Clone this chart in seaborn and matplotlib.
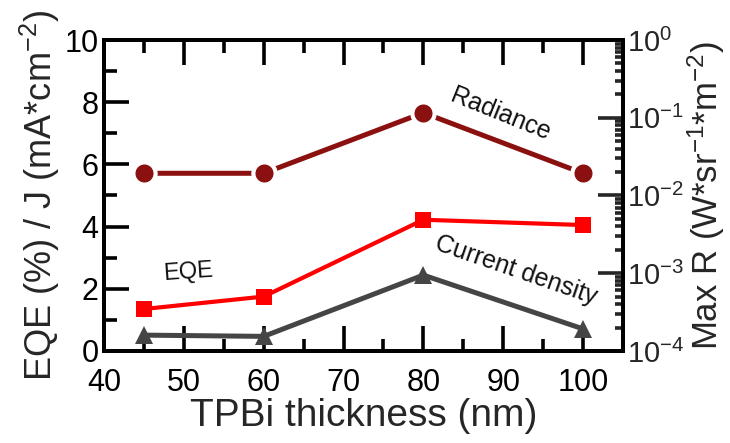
import matplotlib
matplotlib.use("Agg")
import matplotlib.pyplot as plt
from matplotlib.ticker import MultipleLocator, LogLocator, NullFormatter
import seaborn as sns
import pandas as pd

# TPBi thickness series
thickness = [45, 60, 80, 100]
eqe = [1.35, 1.75, 4.22, 4.05]                 # EQE (%)
current_density = [0.51, 0.47, 2.44, 0.71]     # J (mA/cm^2)
radiance = [0.0193, 0.0193, 0.116, 0.0193]     # max radiance (W/sr/m^2)

x_ticks = [40, 50, 60, 70, 80, 90, 100]

sns.set_theme(style="ticks")
plt.rcParams["font.family"] = ["Liberation Sans", "DejaVu Sans"]
plt.rcParams["mathtext.fontset"] = "custom"
plt.rcParams["mathtext.rm"] = "Liberation Sans"
plt.rcParams["mathtext.it"] = "Liberation Sans:italic"
plt.rcParams["mathtext.default"] = "regular"

df = pd.DataFrame({"thickness": thickness, "eqe": eqe,
                   "current": current_density, "radiance": radiance})

fig = plt.figure(figsize=(7.3, 4.43), dpi=100)
ax = fig.add_axes([0.1425, 0.2077, 0.7109, 0.702])
ax2 = ax.twinx()

dark_red = "#8b1111"
red = "#ff0000"
gray = "#454545"

sns.lineplot(data=df, x="thickness", y="current", ax=ax, color=gray,
             lw=3.6, marker="^", markersize=13, markeredgewidth=0, zorder=3)
sns.lineplot(data=df, x="thickness", y="eqe", ax=ax, color=red,
             lw=3.0, marker="s", markersize=11, markeredgewidth=0, zorder=4)
sns.lineplot(data=df, x="thickness", y="radiance", ax=ax2, color=dark_red,
             lw=3.6, marker="o", markersize=16, markeredgewidth=3.0,
             markeredgecolor="white", zorder=5)

# left axis / bottom axis
ax.set_xlim(40, 105)
ax.set_ylim(0, 10)
ax.set_xticks(x_ticks)
ax.xaxis.set_minor_locator(MultipleLocator(5))
ax.yaxis.set_major_locator(MultipleLocator(2))
ax.yaxis.set_minor_locator(MultipleLocator(1))
ax.tick_params(axis="both", which="both", direction="in", width=2.6,
               colors="black", labelsize=22)
ax.tick_params(axis="x", which="both", top=True, bottom=True, pad=12)
ax.tick_params(axis="y", which="both", left=True, right=False, pad=4)
ax.tick_params(which="major", length=18)
ax.tick_params(which="minor", length=9)
ax.set_xlabel("TPBi thickness (nm)", fontsize=28, labelpad=0)
ax.set_ylabel("EQE (%) / J (mA*cm$^{-2}$)", fontsize=26, labelpad=2)

# right log axis
ax2.set_yscale("log")
ax2.set_ylim(1e-4, 1)
ax2.yaxis.set_major_locator(LogLocator(base=10, numticks=10))
ax2.yaxis.set_minor_locator(LogLocator(base=10, subs=range(2, 10), numticks=10))
ax2.yaxis.set_minor_formatter(NullFormatter())
ax2.tick_params(axis="y", which="both", direction="in", width=2.6,
                right=True, left=False, labelsize=21, pad=3)
ax2.tick_params(which="major", length=18)
ax2.tick_params(which="minor", length=6)
ax2.set_ylabel("Max R (W*sr$^{-1}$*m$^{-2}$)", fontsize=25, labelpad=1)

for a in (ax, ax2):
    for s in a.spines.values():
        s.set_linewidth(2.8)
        s.set_color("black")

# series labels
ax.text(50.6, 2.54, "EQE", fontsize=17, rotation=4, ha="center", va="center",
        color="#111111")
ax.text(89.7, 7.6, "Radiance", fontsize=18, rotation=-22, ha="center",
        va="center", color="#111111")
ax.text(91.6, 2.6, "Current density", fontsize=18, rotation=-19,
        ha="center", va="center", color="#111111")

fig.savefig("out.png", dpi=100)
